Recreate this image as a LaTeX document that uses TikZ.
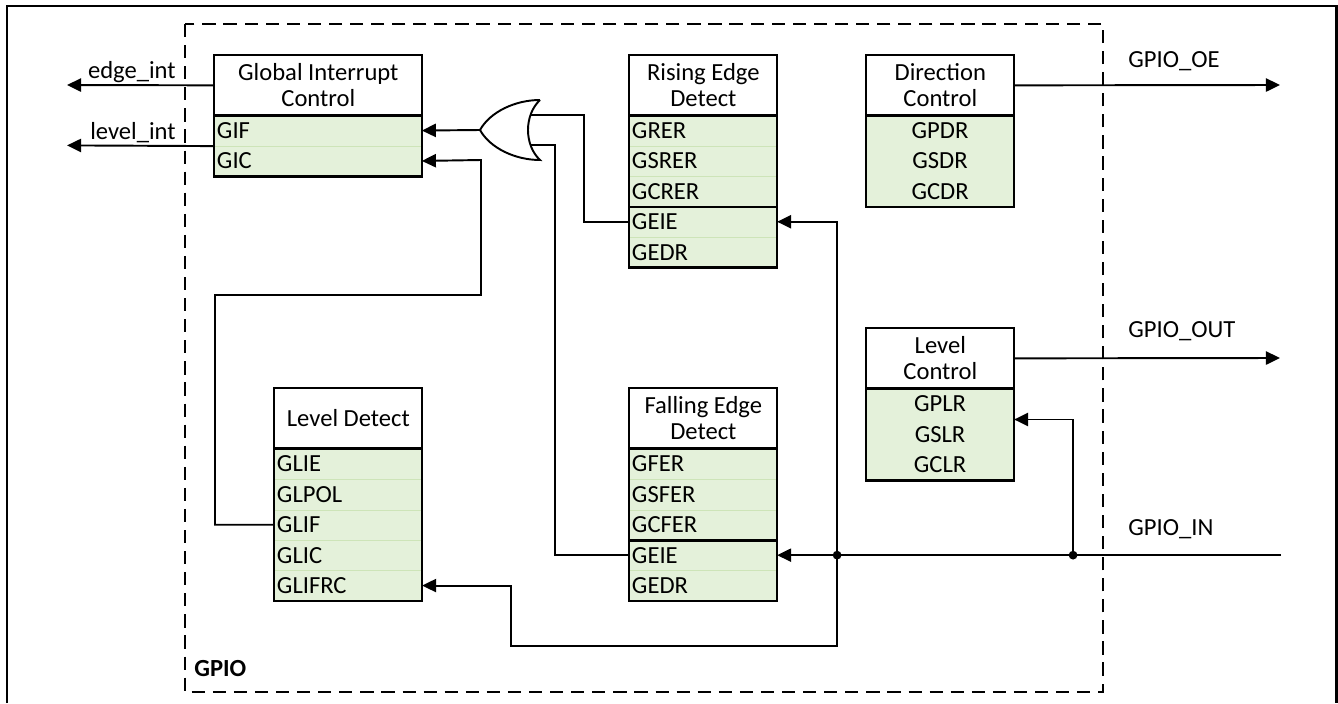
\documentclass[tikz,border=0pt]{standalone}
\usepackage{fontspec}
\setmainfont{Carlito}
\usetikzlibrary{arrows.meta,positioning}
\definecolor{regfill}{HTML}{E4F1DA}
\definecolor{regline}{HTML}{CDE4B8}
\tikzset{
  box/.style={line width=1.5pt},
  wire/.style={line width=1.1pt},
  arr/.style={wire,-{Triangle[length=8pt,width=7.5pt]}},
  hdr/.style={anchor=north west,inner sep=0pt,minimum width=2.96cm,minimum height=1.2cm,align=center},
  reg/.style={anchor=north west,fill=regfill,inner xsep=1.5pt,inner ysep=0pt,minimum height=0.608cm,text width=80.9pt,align=left},
  lbl/.style={inner sep=0pt},
  dot/.style={circle,fill,inner sep=0pt,minimum size=5pt},
}
\begin{document}
\begin{tikzpicture}[x=0.02cm,y=-0.02cm,font=\fontsize{14pt}{14.7pt}\selectfont]
\useasboundingbox (0,0) rectangle (1338,703);
% frame and GPIO block
\draw[line width=1.7pt] (7,703) -- (7,6) -- (1336,6) -- (1336,703);
\draw[line width=1.1pt,dash pattern=on 7.5pt off 4.5pt] (185,24) rectangle (1103,692);
\node[lbl,anchor=base west,font=\fontsize{14pt}{15pt}\selectfont\bfseries] (gpio) at (194,676) {GPIO};

% register blocks
\node[hdr,minimum width=4.16cm] (gic) at (214,55) {Global Interrupt\\Control};
\foreach \r [count=\i] in {GIF,GIC}
  \node[reg,text width=114.9pt] (gic\i) at (214,{84.6+30.4*\i}) {\r};
\node[hdr] (rise) at (629,55) {Rising Edge\\Detect};
\foreach \r [count=\i] in {GRER,GSRER,GCRER,GEIE,GEDR}
  \node[reg] (rise\i) at (629,{84.6+30.4*\i}) {\r};
\node[hdr] (dir) at (866,55) {Direction\\Control};
\foreach \r [count=\i] in {GPDR,GSDR,GCDR}
  \node[reg,align=center] (dir\i) at (866,{84.6+30.4*\i}) {\r};
\node[hdr] (lvd) at (274,388) {Level Detect};
\foreach \r [count=\i] in {GLIE,GLPOL,GLIF,GLIC,GLIFRC}
  \node[reg] (lvd\i) at (274,{418+30.4*\i}) {\r};
\node[hdr] (fall) at (629,388) {Falling Edge\\Detect};
\foreach \r [count=\i] in {GFER,GSFER,GCFER,GEIE,GEDR}
  \node[reg] (fall\i) at (629,{418+30.4*\i}) {\r};
\node[hdr] (lvc) at (866,328) {Level\\Control};
\foreach \r [count=\i] in {GPLR,GSLR,GCLR}
  \node[reg,align=center] (lvc\i) at (866,{358+30.4*\i}) {\r};

% row separators and outlines
\foreach \b in {gic1,rise1,rise2,rise4,lvd1,lvd2,lvd3,lvd4,fall1,fall2,fall4}
  \draw[regline,line width=0.4pt] (\b.south west) -- (\b.south east);
\foreach \b/\n in {gic/2,rise/5,dir/3,lvd/5,fall/5,lvc/3}{
  \draw[box] (\b.north west) rectangle (\b\n.south east);
  \draw[box] (\b.south west) -- (\b.south east);
}
\draw[box] (rise3.south west) -- (rise3.south east);
\draw[box] (fall3.south west) -- (fall3.south east);

% or gate
\coordinate (orout) at (480,130);
\coordinate (orin1) at (530,115);
\coordinate (orin2) at (530,145);
\draw[wire] (540,100) .. controls (515,100) and (490,112) .. (orout)
  .. controls (490,148) and (515,160) .. (540,160)
  .. controls (524,145) and (524,115) .. (540,100);

% outputs to the left
\coordinate (edgeout) at (67,85);
\coordinate (levelout) at (67,145.4);
\draw[arr] (gic.west) -- (edgeout);
\draw[arr] (gic1.south west) -- (levelout);
\node[lbl,anchor=base east] (edgelbl) at (176,78) {edge\_int};
\node[lbl,anchor=base east] (levellbl) at (176,139) {level\_int};

% interrupt paths
\draw[arr] (orout) -- (gic1.east);
\draw[wire] (orin1) -- (584,115) |- (rise4.west);
\draw[wire] (orin2) -- (555,145) |- (fall4.west);
\draw[arr] (lvd3.west) -| (215,295) -| (481,160) -- (gic2.east);

% pins
\coordinate (gpioin) at ([xshift=10.08cm]fall4.east);
\coordinate (oeout) at (1280,85);
\coordinate (outout) at (1280,358);
\node[dot] (jlvc) at ([xshift=5.92cm]fall4.east) {};
\node[dot] (jrise) at ([xshift=1.2cm]fall4.east) {};
\draw[arr] (gpioin) -- (fall4.east);
\draw[arr] (jlvc.center) |- (lvc1.south east);
\draw[arr] (jrise.center) |- (rise4.east);
\draw[arr] (jrise.center) |- (511,646) |- (lvd5.east);
\draw[arr] (dir.east) -- (oeout);
\draw[arr] (lvc.east) -- (outout);
\node[lbl,anchor=base west] (oelbl) at (1128,67) {GPIO\_OE};
\node[lbl,anchor=base west] (outlbl) at (1128,337) {GPIO\_OUT};
\node[lbl,anchor=base west] (inlbl) at (1128,535) {GPIO\_IN};
\end{tikzpicture}
\end{document}
